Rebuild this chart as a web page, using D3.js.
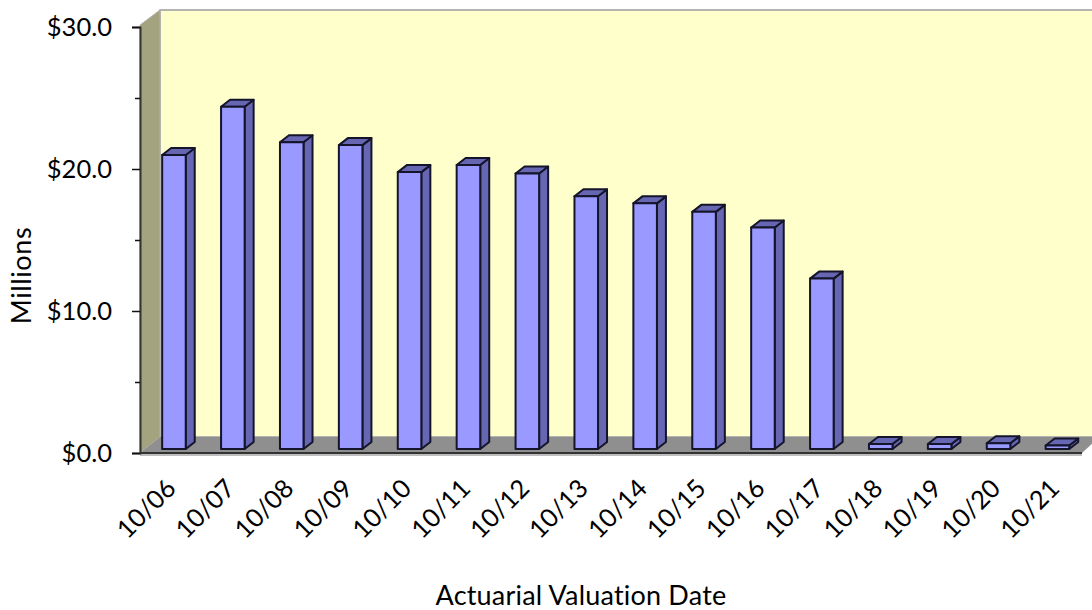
<!DOCTYPE html>
<html>
<head>
<meta charset="utf-8">
<style>
body { margin: 0; background: #fff; }
text { font-family: Lato, "Open Sans", sans-serif; fill: #000; }
.y-axis .tick text { font-size: 25.5px; }
.x-axis .tick text { font-size: 25.5px; }
.axis-title { font-size: 27px; }
</style>
</head>
<body>
<script src="https://d3js.org/d3.v7.min.js"></script>
<script>
// data, in millions
var dates = ["10/06","10/07","10/08","10/09","10/10","10/11","10/12","10/13","10/14","10/15","10/16","10/17","10/18","10/19","10/20","10/21"];
var values = [20.7,24.1,21.6,21.4,19.5,20.0,19.4,17.8,17.3,16.7,15.6,12.0,0.35,0.35,0.4,0.25];
var yTicks = [0,5,10,15,20,25,30];

var W = 1092, H = 610;
var plot = {left: 140, right: 1082, top: 27, bottom: 453};
var wall = {x: 160, top: 10, bottom: 437, frontTop: 25};
var barInset = {dx: 4.5, dy: 4};       // where the bar sits on the floor
var barDepth = {dx: 9, dy: 7};

var x = d3.scaleBand().domain(dates).range([plot.left, plot.left + 58.9 * 16]).paddingInner(0.6).paddingOuter(0.3);
var y = d3.scaleLinear().domain([0, 30]).range([plot.bottom, plot.top]);

var svg = d3.select("body").append("svg").attr("width", W).attr("height", H);

function poly(pts, fill, stroke, sw) {
  return svg.append("polygon")
    .attr("points", pts.map(function(p) { return p.join(","); }).join(" "))
    .attr("fill", fill)
    .attr("stroke", stroke || "none")
    .attr("stroke-width", sw || 0)
    .attr("stroke-linejoin", "round");
}

// back wall
poly([[wall.x, wall.top], [W + 5, wall.top], [W + 5, wall.bottom], [wall.x, wall.bottom]], "#FFFFCC", "#b4b4b0", 2);
// left wall
poly([[plot.left, wall.frontTop], [wall.x, wall.top], [wall.x, wall.bottom], [plot.left, plot.bottom]], "#A3A380", "#b4b4a8", 1);
// floor
poly([[plot.left, plot.bottom], [wall.x, wall.bottom], [W + 5, wall.bottom], [W + 5, wall.bottom + 2], [plot.right, plot.bottom]], "#8F8F8F");
svg.append("line").attr("x1", plot.left).attr("x2", plot.right).attr("y1", plot.bottom + 2).attr("y2", plot.bottom + 2)
  .attr("stroke", "#bdbdbd").attr("stroke-width", 2);

// bars
dates.forEach(function(d, i) {
  var x0 = x(d) + barInset.dx, x1 = x0 + x.bandwidth();
  var y0 = y(0) - barInset.dy, y1 = y(values[i]) - barInset.dy;
  var bx = x1 + barDepth.dx, by = barDepth.dy;
  poly([[x1, y1], [bx, y1 - by], [bx, y0 - by], [x1, y0]], "#6666B3", "#14142b", 2);
  poly([[x0, y1], [x0 + barDepth.dx, y1 - by], [bx, y1 - by], [x1, y1]], "#6666B3", "#14142b", 2);
  poly([[x0, y1], [x1, y1], [x1, y0], [x0, y0]], "#9999FF", "#14142b", 2);
});

// y axis
var yAxis = d3.axisLeft(y).tickValues(yTicks).tickSizeOuter(0).tickSize(8).tickPadding(20)
  .tickFormat(function(d) { return d % 10 === 0 ? "$" + d.toFixed(1) : ""; });
var gy = svg.append("g").attr("class", "y-axis").attr("transform", "translate(" + plot.left + ",0)").call(yAxis);
gy.select(".domain").attr("stroke", "#333").attr("stroke-width", 2);
gy.selectAll(".tick line").attr("stroke", "#111").attr("stroke-width", 1.5)
  .attr("x2", function(d) { return d % 10 === 0 ? -8 : -5; });

// x axis
var xAxis = d3.axisBottom(x).tickSize(0).tickPadding(0);
var gx = svg.append("g").attr("class", "x-axis").attr("transform", "translate(0," + plot.bottom + ")").call(xAxis);
gx.select(".domain").remove();
gx.selectAll(".tick text")
  .attr("text-anchor", "end")
  .attr("dy", 0)
  .attr("y", 0)
  .attr("transform", "translate(8,37) rotate(-45)");
svg.append("line").attr("x1", plot.left).attr("x2", plot.right).attr("y1", plot.bottom).attr("y2", plot.bottom)
  .attr("stroke", "#333").attr("stroke-width", 2);

// axis titles
svg.append("text").attr("class", "axis-title").attr("text-anchor", "middle").attr("letter-spacing", 0.6)
  .attr("transform", "translate(31,275.5) rotate(-90)").text("Millions");
svg.append("text").attr("class", "axis-title").attr("text-anchor", "middle").attr("letter-spacing", 0.2)
  .attr("x", 581).attr("y", 605).text("Actuarial Valuation Date");
</script>
</body>
</html>
